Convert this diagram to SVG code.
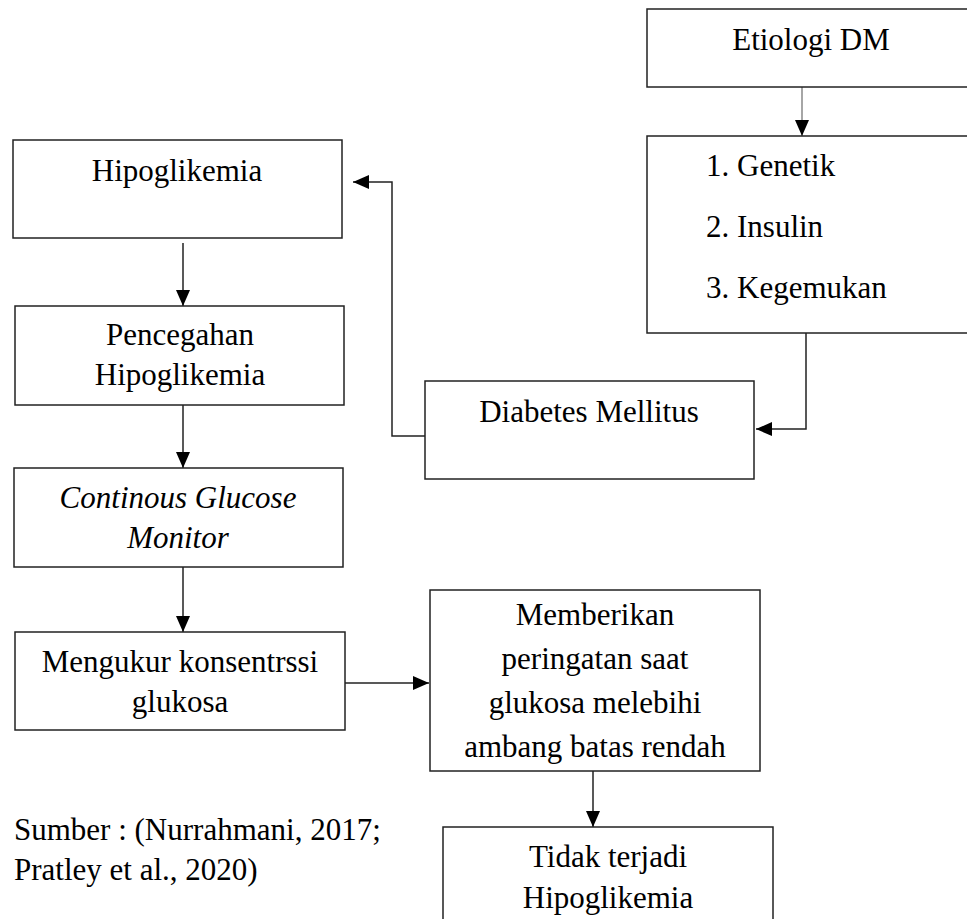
<svg xmlns="http://www.w3.org/2000/svg" width="967" height="919" viewBox="0 0 967 919">
<style>
.box{fill:#fff;stroke:#222;stroke-width:1.5}
.t{font-family:"Liberation Serif","Times New Roman",serif;font-size:31px;fill:#000}
.c{text-anchor:middle}
.i{font-style:italic}
.ln{fill:none;stroke:#222;stroke-width:1.5}
.gl{fill:none;stroke:#888;stroke-width:1.5}
</style>
<defs>
<marker id="ah" viewBox="0 0 16 14" refX="16" refY="7" markerWidth="16" markerHeight="14" orient="auto" markerUnits="userSpaceOnUse"><path d="M0,0 L16,7 L0,14 z" fill="#000"/></marker>
</defs>
<rect width="967" height="919" fill="#fff"/>
<g id="connectors">
<line class="gl" x1="802" y1="87" x2="802" y2="136" marker-end="url(#ah)"/>
<polyline class="ln" points="806,333 806,429 756,429" marker-end="url(#ah)"/>
<polyline class="ln" points="430,436 392,436 392,182 353,182" marker-end="url(#ah)"/>
<line class="ln" x1="183" y1="243" x2="183" y2="306" marker-end="url(#ah)"/>
<line class="ln" x1="183" y1="405" x2="183" y2="468" marker-end="url(#ah)"/>
<line class="ln" x1="183" y1="567" x2="183" y2="632" marker-end="url(#ah)"/>
<line class="ln" x1="345" y1="683" x2="429" y2="683" marker-end="url(#ah)"/>
<line class="ln" x1="593" y1="771" x2="593" y2="827" marker-end="url(#ah)"/>
</g>
<g id="etiologi">
<rect class="box" x="647" y="9" width="330" height="78"/>
<text class="t c" x="811" y="50">Etiologi DM</text>
</g>
<g id="faktor">
<rect class="box" x="647" y="136" width="330" height="197"/>
<text class="t" x="706" y="176">1. Genetik</text>
<text class="t" x="706" y="237">2. Insulin</text>
<text class="t" x="706" y="298">3. Kegemukan</text>
</g>
<g id="dm">
<rect class="box" x="425" y="381" width="329" height="98"/>
<text class="t c" x="589" y="422">Diabetes Mellitus</text>
</g>
<g id="hipoglikemia">
<rect class="box" x="13" y="140" width="329" height="98"/>
<text class="t c" x="177" y="181">Hipoglikemia</text>
</g>
<g id="pencegahan">
<rect class="box" x="15" y="306" width="329" height="99"/>
<text class="t c" x="180" y="345">Pencegahan</text>
<text class="t c" x="180" y="385">Hipoglikemia</text>
</g>
<g id="cgm">
<rect class="box" x="14" y="468" width="329" height="99"/>
<text class="t c i" x="178" y="508">Continous Glucose</text>
<text class="t c i" x="178" y="548">Monitor</text>
</g>
<g id="mengukur">
<rect class="box" x="15" y="632" width="330" height="98"/>
<text class="t c" x="180" y="672">Mengukur konsentrssi</text>
<text class="t c" x="180" y="712">glukosa</text>
</g>
<g id="memberikan">
<rect class="box" x="430" y="590" width="330" height="181"/>
<text class="t c" x="595" y="625">Memberikan</text>
<text class="t c" x="595" y="669">peringatan saat</text>
<text class="t c" x="595" y="713">glukosa melebihi</text>
<text class="t c" x="595" y="757">ambang batas rendah</text>
</g>
<g id="tidak">
<rect class="box" x="443" y="827" width="330" height="110"/>
<text class="t c" x="608" y="867">Tidak terjadi</text>
<text class="t c" x="608" y="908">Hipoglikemia</text>
</g>
<g id="sumber">
<text class="t" x="14" y="840">Sumber : (Nurrahmani, 2017;</text>
<text class="t" x="14" y="880">Pratley et al., 2020)</text>
</g>
</svg>
